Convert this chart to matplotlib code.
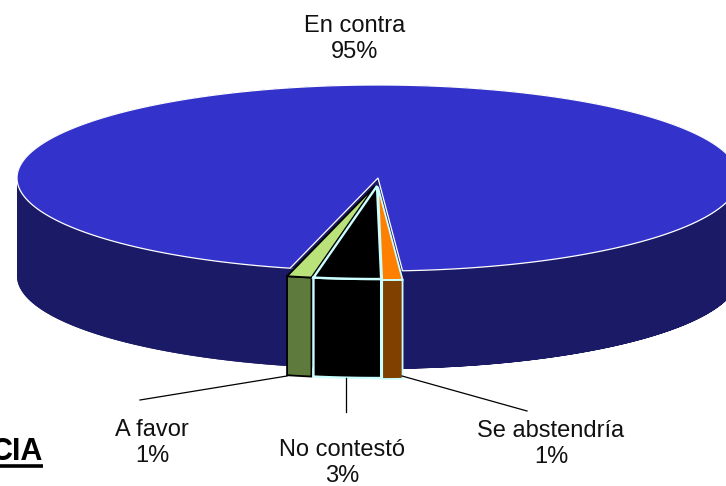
import numpy as np
from matplotlib import pyplot as plt

# front slices go clockwise from the right edge of the orange one
names = ['Se abstendría', 'No contestó', 'A favor', 'En contra']
values = [0.9, 3.0, 1.1, 95.0]
labels = ['1%', '3%', '1%', '95%']
top_colors = ['#FF8000', '#000000', '#B9E27A', '#3333CC']
wall_colors = ['#804000', '#000000', '#5E7B3D', '#1A1A66']
edge_colors = ['#CCFFFF', '#CCFFFF', '#000000', '#FFFFFF']

cx, cy = 378, 178
rx, ry = 361, 93
depth = 98
start = np.radians(3.9)
offsets = [(0, 9), (-1, 8), (-3, 8)]


def arc(a, b, dx=0, dy=0, n=200):
    t = np.linspace(a, b, n)
    return cx + dx + rx * np.sin(t), cy + dy + ry * np.cos(t)


plt.rcParams['font.family'] = ['Liberation Sans', 'DejaVu Sans']
fig = plt.figure(figsize=(7.26, 4.86), dpi=100)
ax = fig.add_axes([0, 0, 1, 1])
ax.set_xlim(0, 726)
ax.set_ylim(486, 0)
ax.axis('off')

sweeps = np.radians(np.array(values) * 3.6)
ends = start - np.cumsum(sweeps)
starts = ends + sweeps

# big slice first: wall, then top with the notch
a, b = starts[3], ends[3]
left = np.linspace(a, -np.pi / 2, 100)
right = np.linspace(np.pi / 2, b, 100)
for part in (left, right):
    x, y = arc(part[0], part[-1])
    ax.fill(np.r_[x, x[::-1]], np.r_[y, y[::-1] + depth],
            color=wall_colors[3], lw=0)
x, y = arc(a, b, n=600)
ax.fill(x, y, color=wall_colors[3], lw=0)
ax.fill(np.r_[x, cx], np.r_[y, cy], facecolor=top_colors[3],
        edgecolor=edge_colors[3], lw=0.9)

# small slices, black one last since it sits over the others
for i in (0, 2, 1):
    dx, dy = offsets[i]
    x, y = arc(starts[i], ends[i], dx, dy, 30)
    lw = 1.7 if i == 1 else 1.3
    ax.fill(np.r_[x, x[::-1]], np.r_[y, y[::-1] + depth + 1],
            facecolor=wall_colors[i], edgecolor=edge_colors[i], lw=lw)
    ax.fill(np.r_[x, cx + dx], np.r_[y, cy + dy], facecolor=top_colors[i],
            edgecolor=edge_colors[i], lw=lw)

# leader lines and labels
ax.plot([140, 287], [400, 376], color='black', lw=0.9)
ax.plot([346, 346], [378, 412], color='black', lw=0.9)
ax.plot([402, 527], [376, 411], color='black', lw=0.9)
label_pos = [(551, 444), (342, 463), (152, 443), (355, 39)]
for i in range(4):
    ax.text(label_pos[i][0], label_pos[i][1], names[i] + '\n' + labels[i],
            ha='center', va='center', fontsize=17, color='#111111',
            linespacing=1.25)

# end of a title cut off by the picture's left edge
ax.text(43, 460, 'CIA', ha='right', va='baseline', fontsize=22,
        fontweight='bold', color='black')
ax.plot([0, 43], [466, 466], color='black', lw=2.6, solid_capstyle='butt')

fig.savefig('out.png', dpi=100)
